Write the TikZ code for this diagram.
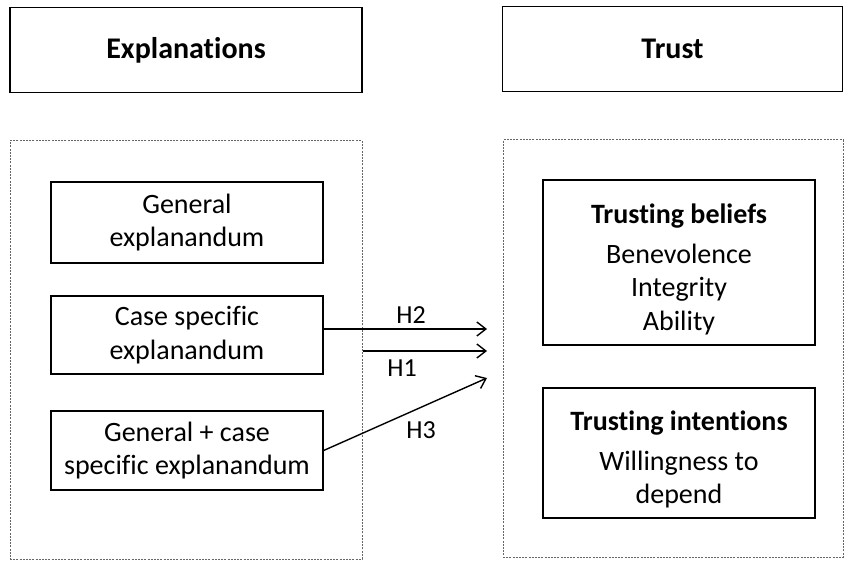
\documentclass[tikz,border=0pt]{standalone}
\usepackage{fontspec}
\setmainfont{Carlito}[Ligatures=NoCommon]
\usepackage{tikz}
\usetikzlibrary{arrows.meta,positioning}
\tikzstyle{arrow} = [line width=1.4pt,-{Straight Barb[length=9pt,width=14pt,line width=1.4pt]}]
\tikzset{
 hd/.style
  = {rectangle, draw, line width=1.8pt, align=center, font=\fontsize{30}{34}\selectfont\bfseries},
 grp/.style
  = {rectangle, draw=gray!80!black, line width=1pt, dash pattern=on 2pt off 1.2pt},
 b/.style
  = {rectangle, draw, line width=1.4pt, align=center, minimum width=272pt,
     font=\fontsize{28}{33.5}\selectfont},
 hl/.style
  = {font=\fontsize{26}{30}\selectfont},
}
\begin{document}
\begin{tikzpicture}[x=1pt,y=-1pt,inner sep=0pt]
\useasboundingbox (0,0) rectangle (844,561);

% Headers
\node[hd,minimum width=352pt,minimum height=85pt] (expl) at (186,50) {Explanations};
\node[hd,minimum width=340pt,minimum height=85pt] (trust) at (672.5,49) {Trust};

% Dashed groups
\node[grp,minimum width=352pt,minimum height=418pt] (left) at (186,350) {};
\node[grp,minimum width=340pt,minimum height=417pt] (right) at (673,348.5) {};

% Explanation types
\node[b,minimum height=81pt] (gen) at (187,222.5) {General\\explanandum};
\node[b,minimum height=78pt] (case) at (187,335) {Case specific\\explanandum};
\node[b,minimum height=79pt] (both) at (187,450.5) {General + case\\specific explanandum};

% Trust constructs
\node[b,minimum height=165pt] (beliefs) at (679,262.5)
  {\rule{0pt}{33pt}\textbf{Trusting beliefs}\\[6.5pt]Benevolence\\Integrity\\Ability};
\node[b,minimum height=130pt] (intent) at (679,453)
  {\rule{0pt}{33pt}\textbf{Trusting intentions}\\[6.5pt]Willingness to\\depend};

% Arrow ends
\coordinate (e2) at (487,329);
\coordinate (e1) at (487,351);
\coordinate (e3) at (487,378);

% Hypotheses
\draw[arrow] (case.east |- e2) -- (e2);
\draw[arrow] (left.east |- e1) -- (e1);
\draw[arrow] (both.east) -- (e3);
\node[hl] (h2) at (411,315) {H2};
\node[hl] (h1) at (402,368) {H1};
\node[hl] (h3) at (421,430) {H3};

\end{tikzpicture}
\end{document}
